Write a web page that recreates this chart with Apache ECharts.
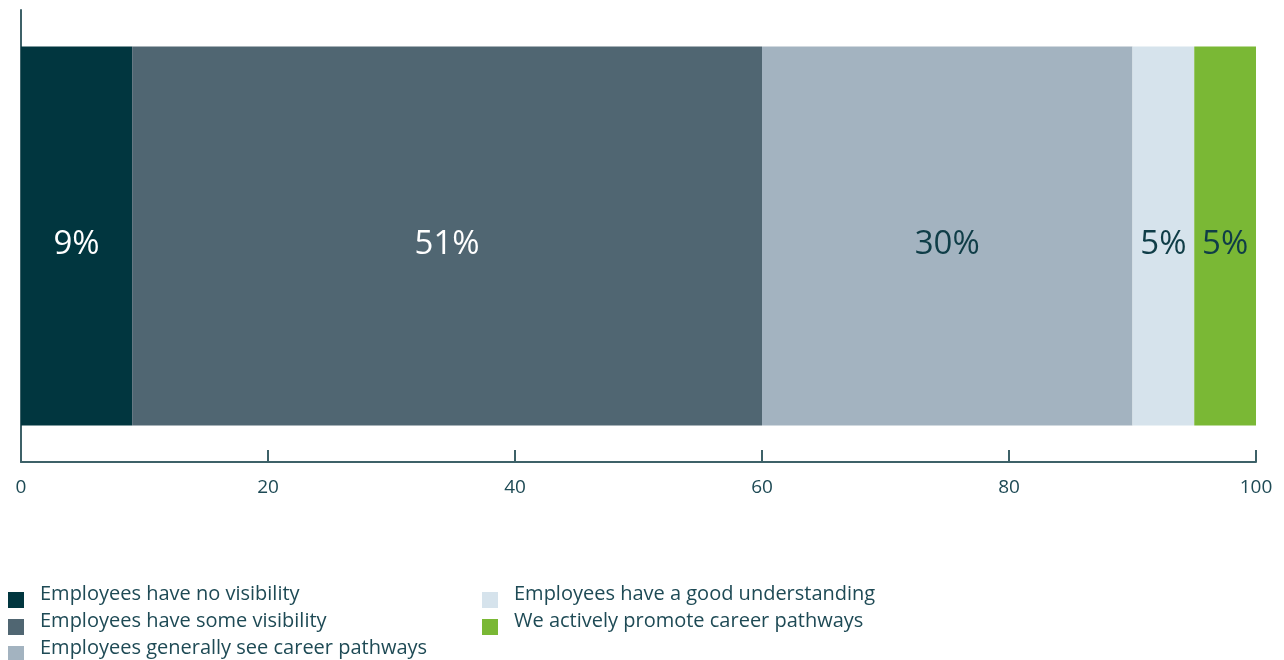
<!DOCTYPE html>
<html>
<head>
<meta charset="utf-8">
<script src="https://cdn.jsdelivr.net/npm/echarts@6/dist/echarts.min.js"></script>
<style>
  html, body { margin: 0; padding: 0; background: #fff; }
  #main { width: 1284px; height: 660px; }
</style>
</head>
<body>
<div id="main"></div>
<script>
// data
var categories = ['Career visibility'];
var seriesNames = [
    'Employees have no visibility',
    'Employees have some visibility',
    'Employees generally see career pathways',
    'Employees have a good understanding',
    'We actively promote career pathways'
];
var seriesValues = [9, 51, 30, 5, 5];
var xTicks = [0, 20, 40, 60, 80, 100];

var colors = ['#01363f', '#506672', '#a3b3c0', '#d6e3ec', '#7ab835'];
var labelColors = ['#ffffff', '#ffffff', '#0f3d47', '#0f3d47', '#0f3d47'];
var textColor = '#1e4a55';
var axisColor = '#3d6168';

var myChart = echarts.init(document.getElementById('main'));

var series = seriesNames.map(function (name, i) {
    return {
        name: name,
        type: 'bar',
        stack: 'total',
        barWidth: 379,
        data: [seriesValues[i]],
        itemStyle: { color: colors[i] },
        label: {
            show: true,
            position: 'inside',
            offset: [0, 9],
            formatter: '{c}%',
            color: labelColors[i],
            fontFamily: 'Open Sans',
            fontSize: 33
        }
    };
});

function legendAt(names, left) {
    return {
        data: names,
        orient: 'vertical',
        left: left,
        top: 584,
        height: 100,
        icon: 'rect',
        itemWidth: 16,
        itemHeight: 16,
        itemGap: -5,
        padding: 0,
        formatter: function (name) { return '{t|' + name + '}'; },
        textStyle: {
            color: textColor,
            fontFamily: 'Open Sans',
            fontSize: 20,
            rich: {
                t: {
                    color: textColor,
                    fontFamily: 'Open Sans',
                    fontSize: 20,
                    lineHeight: 20,
                    padding: [0, 0, 12, 11]
                }
            }
        }
    };
}

myChart.setOption({
    backgroundColor: '#ffffff',
    animation: false,
    color: colors,
    grid: { left: 21, right: 28, top: 10, bottom: 198 },
    legend: [
        legendAt(seriesNames.slice(0, 3), 8),
        legendAt(seriesNames.slice(3), 482)
    ],
    xAxis: {
        type: 'value',
        min: xTicks[0],
        max: xTicks[xTicks.length - 1],
        interval: 20,
        splitLine: { show: false },
        axisLine: { show: true, lineStyle: { color: axisColor, width: 2 } },
        axisTick: { show: true, inside: true, length: 12, lineStyle: { color: axisColor, width: 2 } },
        axisLabel: {
            color: textColor,
            fontFamily: 'Open Sans',
            fontSize: 19,
            margin: 16
        }
    },
    yAxis: {
        type: 'category',
        data: categories,
        axisLine: { show: true, lineStyle: { color: axisColor, width: 2 } },
        axisTick: { show: false },
        axisLabel: { show: false }
    },
    series: series
});
</script>
</body>
</html>
